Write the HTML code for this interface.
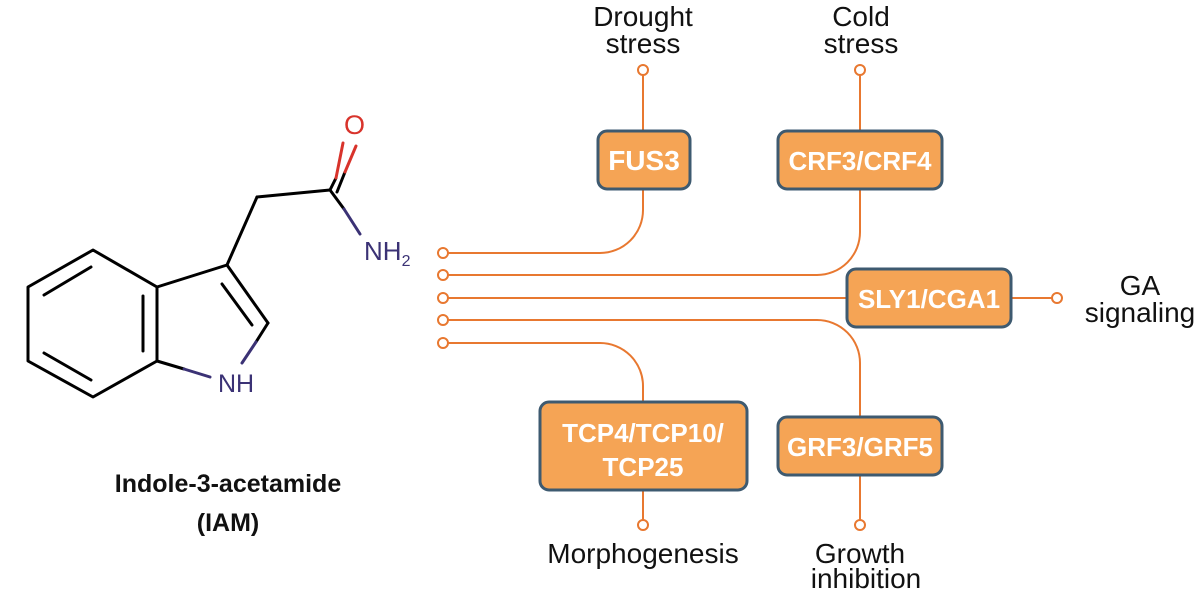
<!DOCTYPE html>
<html><head><meta charset="utf-8"><style>
html,body{margin:0;padding:0;background:#fff;}
svg{display:block;}
text{font-family:"Liberation Sans",sans-serif;}
</style></head><body>
<svg width="1200" height="598" viewBox="0 0 1200 598" xmlns="http://www.w3.org/2000/svg">
<g stroke="#000" stroke-width="3" fill="none" stroke-linecap="round" stroke-linejoin="round">
<polygon points="93,250 157,287 157,361 93,397 28,361 28,287"/>
<line x1="44" y1="295" x2="91" y2="267"/>
<line x1="44" y1="353" x2="91" y2="380"/>
<line x1="143" y1="296" x2="143" y2="351"/>
<line x1="157" y1="287" x2="227" y2="265"/>
<line x1="227" y1="265" x2="268" y2="323"/>
<line x1="222" y1="284" x2="252" y2="325"/>
<line x1="227" y1="265" x2="257" y2="197"/>
<line x1="257" y1="197" x2="330" y2="190"/>
<line x1="157" y1="361" x2="184" y2="369"/>
<line x1="268" y1="323" x2="256" y2="342"/>
<line x1="330" y1="190" x2="336" y2="178"/>
<line x1="330" y1="190" x2="344" y2="209"/>
<line x1="337" y1="192" x2="345" y2="172"/>
</g>
<g stroke="#3b3275" stroke-width="3" fill="none" stroke-linecap="round">
<line x1="184" y1="369" x2="210" y2="377"/>
<line x1="256" y1="342" x2="242" y2="363"/>
<line x1="344" y1="209" x2="360" y2="234"/>
</g>
<g stroke="#d8332b" stroke-width="3" stroke-linecap="round">
<line x1="336" y1="178" x2="343" y2="143"/>
<line x1="345" y1="172" x2="356" y2="146"/>
</g>
<text x="344" y="134" font-size="27" fill="#d8332b">O</text>
<text x="364" y="260" font-size="26" fill="#3b3275">NH<tspan font-size="16" dy="6">2</tspan></text>
<text x="218" y="392" font-size="25" fill="#3b3275">NH</text>
<text x="228" y="492" font-size="25" font-weight="bold" text-anchor="middle" fill="#111">Indole-3-acetamide</text>
<text x="228" y="531" font-size="25" font-weight="bold" text-anchor="middle" fill="#111">(IAM)</text>

<g stroke="#e87830" stroke-width="2" fill="none">
<path d="M448,253 H600 A43,43 0 0 0 643,210 V190"/>
<path d="M448,275 H817 A43,43 0 0 0 860,232 V190"/>
<path d="M448,298 H846"/>
<path d="M1012,298 H1052"/>
<path d="M448,320 H817 A43,43 0 0 1 860,363 V416"/>
<path d="M448,343 H600 A43,43 0 0 1 643,386 V401"/>
<path d="M643,75 V130 M860,75 V130 M643,491 V520 M860,476 V520"/>
<circle cx="443" cy="253" r="5" fill="#fff"/>
<circle cx="443" cy="275" r="5" fill="#fff"/>
<circle cx="443" cy="298" r="5" fill="#fff"/>
<circle cx="443" cy="320" r="5" fill="#fff"/>
<circle cx="443" cy="343" r="5" fill="#fff"/>
<circle cx="643" cy="70" r="5" fill="#fff"/>
<circle cx="860" cy="70" r="5" fill="#fff"/>
<circle cx="643" cy="525" r="5" fill="#fff"/>
<circle cx="860" cy="525" r="5" fill="#fff"/>
<circle cx="1057" cy="298" r="5" fill="#fff"/>
</g>
<g fill="#f5a455" stroke="#3e5a70" stroke-width="3">
<rect x="598" y="131" width="92" height="58" rx="9"/>
<rect x="778" y="131" width="164" height="58" rx="9"/>
<rect x="847" y="269" width="164" height="58" rx="9"/>
<rect x="540" y="402" width="207" height="88" rx="9"/>
<rect x="778" y="417" width="164" height="58" rx="9"/>
</g>
<g fill="#fff" font-weight="bold" font-size="26" text-anchor="middle">
<text x="644" y="170" font-size="28">FUS3</text>
<text x="860" y="170">CRF3/CRF4</text>
<text x="929" y="308">SLY1/CGA1</text>
<text x="643" y="442">TCP4/TCP10/</text>
<text x="643" y="476">TCP25</text>
<text x="860" y="456">GRF3/GRF5</text>
</g>
<g fill="#111" font-size="28" text-anchor="middle">
<text x="643" y="26">Drought</text>
<text x="643" y="53">stress</text>
<text x="861" y="26">Cold</text>
<text x="861" y="53">stress</text>
<text x="1140" y="295">GA</text>
<text x="1140" y="322">signaling</text>
<text x="643" y="563">Morphogenesis</text>
<text x="860" y="563">Growth</text>
<text x="866" y="588">inhibition</text>
</g>
</svg>
</body></html>
